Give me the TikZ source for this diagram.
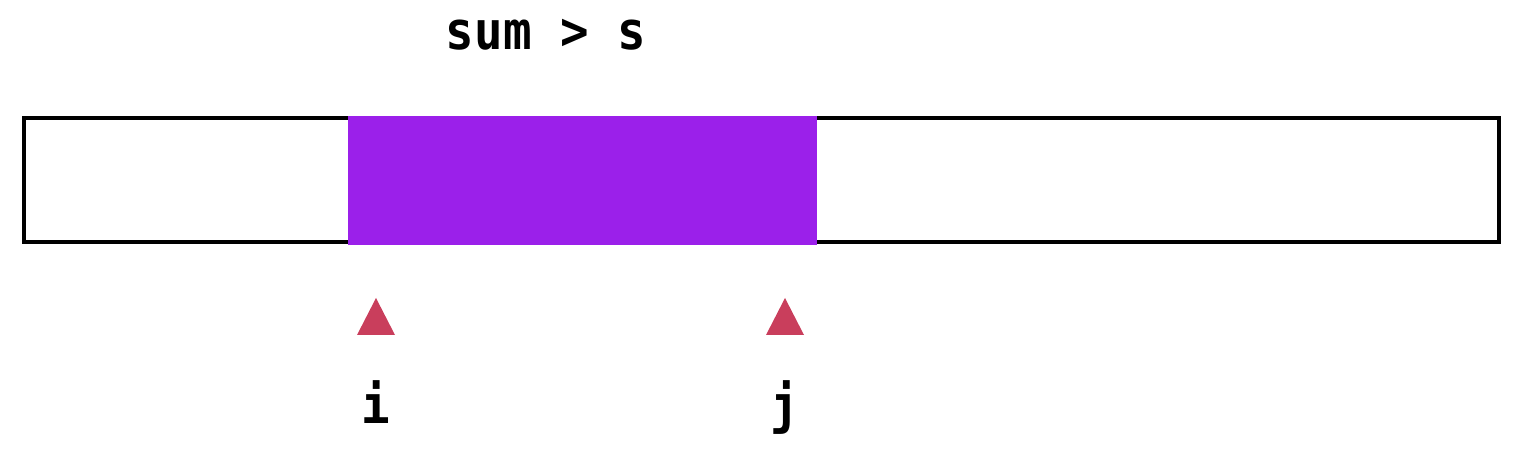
\documentclass[tikz,border=0pt]{standalone}
\usepackage{fontspec}
\usepackage{tikz}
\usetikzlibrary{positioning,calc}
\newfontfamily\codefont[FakeStretch=0.9]{DejaVu Sans Mono Bold}
\definecolor{winpurple}{RGB}{155,32,234}
\definecolor{ptrred}{RGB}{201,62,92}

\begin{document}
\begin{tikzpicture}[x=0.01cm, y=-0.01cm,
    cell/.style={draw=black, line width=0.04cm},
    window/.style={fill=winpurple},
    ptr/.style={fill=ptrred},
    lbl/.style={font=\codefont\fontsize{15}{18}\selectfont, inner sep=0pt, anchor=base}]
    \useasboundingbox (0,0) rectangle (1524,452);
    % array
    \draw[cell] (24,118) rectangle (1499,242);
    % current window
    \fill[window] (348,116) rectangle (817,245);
    \node[lbl] (cond) at (546,50) {sum > s};
    % pointers
    \coordinate (ptri) at (376,317);
    \coordinate (ptrj) at (785,317);
    \fill[ptr] (ptri) ++(0,-19) -- ++(19,37) -- ++(-38,0) -- cycle;
    \fill[ptr] (ptrj) ++(0,-19) -- ++(19,37) -- ++(-38,0) -- cycle;
    \node[lbl] (labi) at (376,424) {i};
    \node[lbl] (labj) at (785,424) {j};
\end{tikzpicture}
\end{document}
